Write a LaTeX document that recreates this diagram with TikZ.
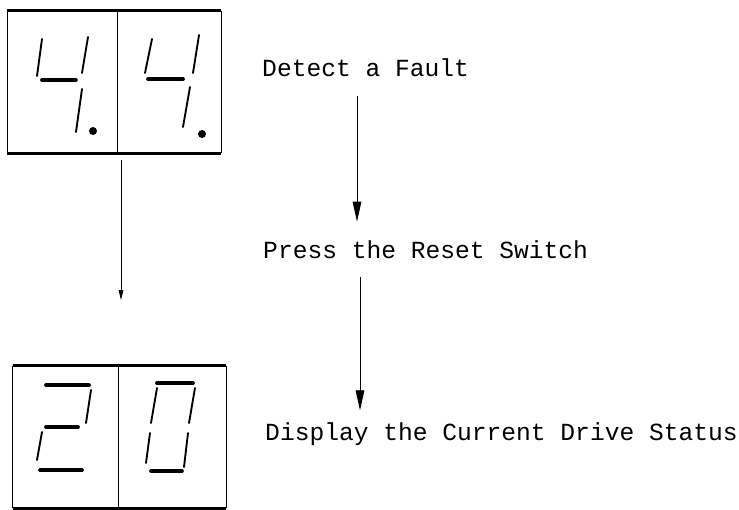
\documentclass[tikz,border=0pt]{standalone}
\usepackage{fontspec}
\setmonofont{Liberation Mono}
\usetikzlibrary{arrows.meta, positioning}

\begin{document}
\begin{tikzpicture}[x=0.03cm, y=-0.03cm,
    msg/.style={font=\ttfamily\fontsize{21}{25}\selectfont, anchor=base west, inner xsep=0pt, inner ysep=0.55cm},
    flow/.style={-{Triangle[length=0.6cm,width=0.26cm]}, line width=0.8pt},
    dispbox/.style={minimum width=6.4cm, minimum height=4.26cm, inner sep=0pt},
    rim/.style={line width=2.4pt},
    side/.style={line width=0.6pt},
    hseg/.style={line width=3.2pt, line cap=round},
    vseg/.style={line width=1.6pt, line cap=round}]
                \useasboundingbox (0,0) rectangle (739,509);
                % Display before reset
                \node[dispbox] (dispA) at (114,82) {};
                \draw[rim] (dispA.north west) -- (dispA.north east);
                \draw[rim] (dispA.south west) -- (dispA.south east);
                \draw[side] (dispA.north west) -- (dispA.south west);
                \draw[side] (dispA.north east) -- (dispA.south east);
                \draw[side] (117,11) -- (117,153);
                % 4.
                \draw[vseg] (42,39) -- (37,76);
                \draw[hseg] (42,80) -- (76,80);
                \draw[vseg] (88,37) -- (82,73);
                \draw[vseg] (82,89) -- (76,132);
                \fill (93,131) circle (0.12cm);
                % 4.
                \draw[vseg] (152,39) -- (145,73);
                \draw[hseg] (148,79) -- (183,79);
                \draw[vseg] (199,35) -- (193,73);
                \draw[vseg] (190,87) -- (183,127);
                \fill (202,134) circle (0.12cm);
                % Display after reset
                \node[dispbox] (dispB) at (119.5,437) {};
                \draw[rim] (dispB.north west) -- (dispB.north east);
                \draw[rim] (dispB.south west) -- (dispB.south east);
                \draw[side] (dispB.north west) -- (dispB.south west);
                \draw[side] (dispB.north east) -- (dispB.south east);
                \draw[side] (118,366) -- (118,508);
                % 2
                \draw[hseg] (46,385) -- (89,385);
                \draw[vseg] (91,390) -- (86,423);
                \draw[hseg] (46,427) -- (78,427);
                \draw[vseg] (42,432) -- (37,460);
                \draw[hseg] (40,470) -- (82,470);
                % 0
                \draw[hseg] (157,383) -- (193,383);
                \draw[vseg] (157,388) -- (151,423);
                \draw[vseg] (195,388) -- (189,423);
                \draw[vseg] (150,433) -- (146,463);
                \draw[vseg] (188,433) -- (184,467);
                \draw[hseg] (151,471) -- (182,471);
                % Steps
                \node[msg] (detect) at (262,77) {Detect a Fault};
                \node[msg] (reset) at (263,258) {Press the Reset Switch};
                \node[msg] (status) at (265,440) {Display the Current Drive Status};
                % Arrows
                \coordinate (col0) at (121,0);
                \coordinate (col1) at (357,0);
                \coordinate (col2) at (360,0);
                \coordinate (tipend) at (121,300);
                \draw[flow] (detect.south -| col1) -- (reset.north -| col1);
                \draw[flow, shorten >=-0.2cm] (reset.south -| col2) -- (status.north -| col2);
                \draw[-{Triangle[length=0.3cm,width=0.14cm]}, line width=0.7pt, shorten <=0.2cm] (dispA.south -| col0) -- (tipend);
            \end{tikzpicture}
\end{document}
